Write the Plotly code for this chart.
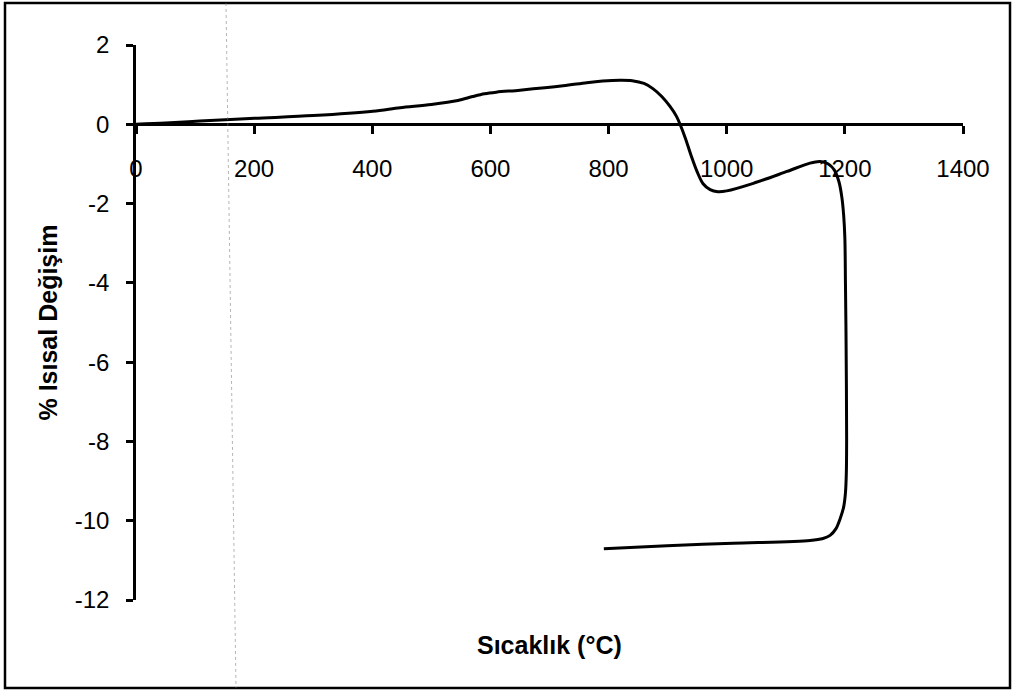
import plotly.graph_objects as go

# Dilatometer trace: temperature (°C) vs. % thermal change
sicaklik = [0, 50, 108, 201, 300, 401, 447, 500, 545, 570, 590, 610, 650, 723,
            763, 790, 819, 840, 860, 875, 890, 904, 915, 921, 930, 940, 950,
            960, 972, 985, 1000, 1045, 1102, 1141, 1158, 1172, 1182, 1190,
            1195, 1198, 1200, 1201, 1202, 1203, 1202.5, 1201, 1198, 1192, 1185,
            1175, 1163, 1141, 1011, 899, 792]
degisim = [0, 0.03, 0.08, 0.15, 0.22, 0.33, 0.42, 0.5, 0.6, 0.7, 0.77, 0.81,
           0.86, 0.97, 1.05, 1.09, 1.11, 1.10, 1.03, 0.9, 0.7, 0.45, 0.2, 0,
           -0.35, -0.8, -1.2, -1.5, -1.65, -1.7, -1.68, -1.49, -1.19, -0.98,
           -0.94, -1.0, -1.15, -1.45, -1.85, -2.3, -2.87, -4.0, -5.39, -7.9,
           -8.8, -9.3, -9.65, -9.95, -10.2, -10.37, -10.45, -10.5, -10.57,
           -10.63, -10.71]

x_ticks = [0, 200, 400, 600, 800, 1000, 1200, 1400]
y_ticks = [2, 0, -2, -4, -6, -8, -10, -12]

FONT = "Arial, Liberation Sans, sans-serif"

fig = go.Figure()
fig.add_trace(go.Scatter(
    x=sicaklik, y=degisim, mode="lines",
    line=dict(color="black", width=3, shape="spline", smoothing=0.9),
    showlegend=False, hoverinfo="skip",
))

fig.update_layout(
    width=1013, height=692,
    margin=dict(l=136, r=50, t=45, b=92),
    paper_bgcolor="white", plot_bgcolor="white",
    font=dict(family=FONT, color="black", size=24),
    xaxis=dict(
        range=[0, 1400], tickvals=x_ticks, ticktext=[str(v) for v in x_ticks],
        showgrid=False, zeroline=False, showline=True, linecolor="black",
        linewidth=2.5, ticks="outside", ticklen=8, tickwidth=2.5,
        tickcolor="black", anchor="free", position=12 / 14,
        ticklabelstandoff=14, tickfont=dict(size=24, family=FONT),
    ),
    yaxis=dict(
        range=[-12, 2], tickvals=y_ticks, ticktext=[str(v) for v in y_ticks],
        showgrid=False, zeroline=False, showline=True, linecolor="black",
        linewidth=2.5, ticks="outside", ticklen=7, tickwidth=2.5,
        tickcolor="black", ticklabelstandoff=12,
        tickfont=dict(size=24, family=FONT),
    ),
    annotations=[
        dict(text="<b>Sıcaklık (°C)</b>", xref="paper", yref="paper",
             x=0.5, y=-0.081, xanchor="center", yanchor="middle",
             showarrow=False, font=dict(size=25, family=FONT)),
        dict(text="<b>% Isısal Değişim</b>", xref="paper", yref="paper",
             x=(47 - 136) / 827, y=0.5, xanchor="center", yanchor="middle",
             textangle=-90, showarrow=False, font=dict(size=25, family=FONT)),
    ],
    shapes=[
        # outer chart frame
        dict(type="rect", xref="paper", yref="paper",
             x0=(5 - 136) / 827, x1=(1010 - 136) / 827,
             y0=(600 - 688) / 555, y1=(600 - 3) / 555,
             line=dict(color="black", width=2.5), fillcolor="rgba(0,0,0,0)"),
        # faint dotted vertical line
        dict(type="line", xref="paper", yref="paper",
             x0=(226 - 136) / 827, x1=(236 - 136) / 827,
             y0=(600 - 3) / 555, y1=(600 - 688) / 555,
             line=dict(color="rgba(120,120,120,0.55)", width=1, dash="dot")),
    ],
)

fig.write_html("out.html")
